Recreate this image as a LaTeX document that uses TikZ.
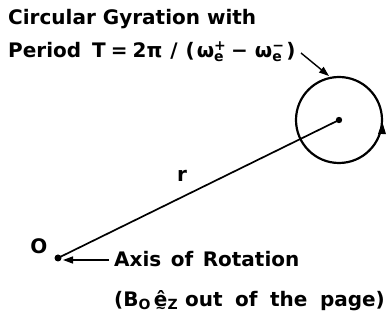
\documentclass[tikz,border=0pt]{standalone}
\usepackage{fontspec}
\setmainfont{DejaVu Sans}
\usetikzlibrary{arrows.meta}
\tikzset{
  lbl/.style={font=\bfseries\fontsize{20}{20}\selectfont, inner sep=0pt, anchor=base west},
  thick line/.style={line width=2.2pt},
  arr/.style={-{Triangle[length=10pt,width=7pt]}, line width=1.4pt}
}
\newcommand{\ehatz}{\vtop{\offinterlineskip\halign{\hfil##\hfil\cr ê\cr\noalign{\kern1pt}{\fontsize{13}{13}\selectfont\char"223C}\cr}}}
\newcommand{\supsub}[2]{\rlap{\textsuperscript{#1}}\textsubscript{#2}}
\begin{document}
\begin{tikzpicture}[x=1pt,y=-1pt]
\useasboundingbox (0,0) rectangle (388,320);
% title
\node[lbl] (t1) at (8,25) {Circular Gyration with};
\node[lbl] (t2) at (8,58) {Period\hspace{11pt}T\kern5pt=\kern5pt2π\kern8pt/\kern8pt(\kern2ptω\supsub{+}{e}\kern7pt−\kern7ptω\supsub{−}{e}\kern4pt)};
% circle
\coordinate (c) at (339,120);
\draw[thick line] (c) circle[radius=43];
\fill (c) circle[radius=3.2];
\draw[-{Triangle[length=12pt,width=8pt]}, line width=0pt] (382,134) -- (382.3,122);
% origin
\coordinate (o) at (58,258);
\fill (o) circle[radius=3.5];
\node[font=\bfseries\fontsize{20}{20}\selectfont, inner sep=0pt] (olab) at (39,246) {O};
\draw[line width=1.7pt] (o) -- (c);
\node[font=\bfseries\fontsize{20}{20}\selectfont, inner sep=0pt] (rlab) at (182,176) {r};
% title arrow
\coordinate (ta1) at (301,53);
\coordinate (ta2) at (329,76);
\draw[arr] (ta1) -- (ta2);
% axis arrow
\coordinate (aa1) at (109,260);
\coordinate (aa2) at (63,260);
\draw[arr] (aa1) -- (aa2);
\node[lbl] (ax) at (114,267) {\spaceskip=9.5pt Axis of Rotation};
\node[lbl] (bz) at (114,306) {\spaceskip=12.5pt (B\textsubscript{O}\kern3pt\ehatz\textsubscript{Z}\hspace{7pt}out of the page)};
\end{tikzpicture}
\end{document}
